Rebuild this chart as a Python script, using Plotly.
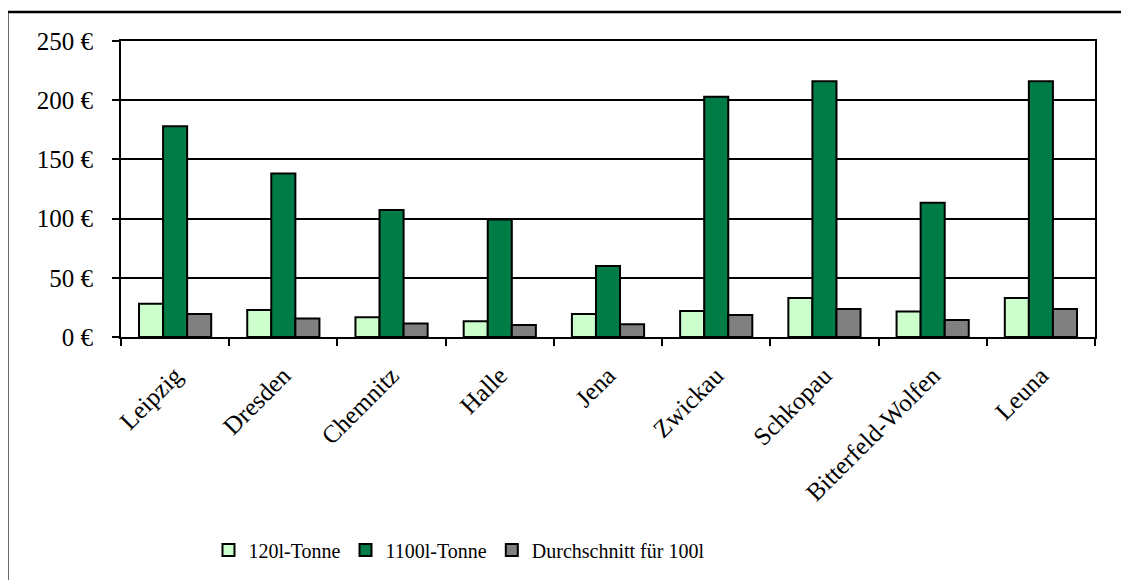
import plotly.graph_objects as go

cities = ["Leipzig", "Dresden", "Chemnitz", "Halle", "Jena", "Zwickau",
          "Schkopau", "Bitterfeld-Wolfen", "Leuna"]
tonne_120 = [28, 22.7, 16.6, 13.2, 19.4, 21.9, 33, 21.6, 33]
tonne_1100 = [178, 138, 107.2, 99.3, 60, 203, 216, 113.4, 216]
avg_100 = [19.5, 15.7, 11.5, 10.1, 10.7, 18.5, 23.6, 14.3, 23.6]
y_ticks = [0, 50, 100, 150, 200, 250]
y_tick_text = [f"{v} €" for v in y_ticks]

FONT = "Liberation Serif, Times New Roman, serif"
line = dict(color="black", width=2)

fig = go.Figure()
fig.add_trace(go.Bar(name="120l-Tonne", x=cities, y=tonne_120,
                     marker=dict(color="#CCFFCC", line=line)))
fig.add_trace(go.Bar(name="1100l-Tonne", x=cities, y=tonne_1100,
                     marker=dict(color="#007C46", line=line)))
fig.add_trace(go.Bar(name="Durchschnitt für 100l", x=cities, y=avg_100,
                     marker=dict(color="#808080", line=line)))

fig.update_layout(
    width=1121, height=572,
    margin=dict(l=113, r=34, t=33, b=242),
    paper_bgcolor="white", plot_bgcolor="white",
    barmode="group", bargap=0.333, bargroupgap=0,
    font=dict(family=FONT, color="black", size=20),
    showlegend=True,
    legend=dict(orientation="h", x=0.347, xanchor="center", y=-0.714,
                yanchor="middle", font=dict(size=20, family=FONT),
                bgcolor="rgba(0,0,0,0)", itemwidth=30, tracegroupgap=0),
    xaxis=dict(showline=True, linecolor="black", linewidth=2, mirror=True,
               ticks="outside", tickson="boundaries", ticklen=7,
               tickwidth=2, tickcolor="black", tickangle=-45,
               ticklabelstandoff=12,
               tickfont=dict(size=25, family=FONT), showgrid=False),
    yaxis=dict(range=[0, 250], tickmode="array", tickvals=y_ticks,
               ticktext=y_tick_text, ticklabelstandoff=14,
               showline=True, linecolor="black", linewidth=2, mirror=True,
               ticks="outside", ticklen=7, tickwidth=2, tickcolor="black",
               showgrid=True, gridcolor="black", gridwidth=2,
               tickfont=dict(size=25, family=FONT), zeroline=False),
    shapes=[dict(type="rect", xref="paper", yref="paper",
                 x0=-0.1167, x1=1.3, y0=1.0976, y1=-1.2,
                 line=dict(color="black", width=2.5), layer="below")],
)

fig.write_html("out.html")
